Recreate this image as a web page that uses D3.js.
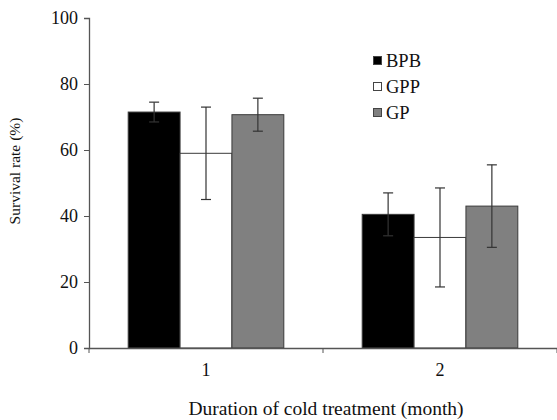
<!DOCTYPE html>
<html>
<head>
<meta charset="utf-8">
<script src="https://cdn.jsdelivr.net/npm/d3@7"></script>
<style>
  body { margin: 0; background: #fff; }
  text { font-family: "Liberation Serif", "Times New Roman", serif; fill: #111; }
</style>
</head>
<body>
<div id="chart"></div>
<script>
var months = ["1", "2"];
var series = ["BPB", "GPP", "GP"];
var colors = ["#000000", "#ffffff", "#808080"];
// survival rate (%) per series, for month 1 and 2
var BPB = [71.5, 40.5];
var GPP = [59, 33.5];
var GP = [70.7, 43];
// error bar half-lengths
var BPBerr = [3, 6.5];
var GPPerr = [14, 15];
var GPerr = [5, 12.5];
var yTicks = [0, 20, 40, 60, 80, 100];

var values = [BPB, GPP, GP],
    errors = [BPBerr, GPPerr, GPerr];

var svg = d3.select("#chart")
        .append("svg")
        .attr("width", 557)
        .attr("height", 420),
    margin = {top: 18, right: 0, bottom: 72, left: 89},
    width = +svg.attr("width") - margin.left - margin.right,
    height = +svg.attr("height") - margin.top - margin.bottom,
    g = svg.append("g").attr("transform", "translate(" + margin.left + "," + margin.top + ")");

var x0 = d3.scaleBand()
    .domain(months)
    .range([0, width])
    .paddingInner(0.335)
    .paddingOuter(0.1675);

var x1 = d3.scaleBand()
    .domain(series)
    .range([0, x0.bandwidth()]);

var y = d3.scaleLinear()
    .domain([0, 100])
    .range([height, 0]);

// bars
months.forEach(function(m, i) {
    series.forEach(function(s, j) {
        var v = values[j][i];
        g.append("rect")
            .attr("x", x0(m) + x1(s))
            .attr("y", y(v))
            .attr("width", x1.bandwidth())
            .attr("height", height - y(v))
            .attr("fill", colors[j])
            .attr("stroke", "#3a3a3a")
            .attr("stroke-width", 1);
    });
});

// error bars
months.forEach(function(m, i) {
    series.forEach(function(s, j) {
        var v = values[j][i], e = errors[j][i];
        var cx = x0(m) + x1(s) + x1.bandwidth() / 2;
        var eb = g.append("g").attr("stroke", "#333").attr("stroke-width", 1.2);
        eb.append("line").attr("x1", cx).attr("x2", cx).attr("y1", y(v + e)).attr("y2", y(v - e));
        eb.append("line").attr("x1", cx - 5).attr("x2", cx + 5).attr("y1", y(v + e)).attr("y2", y(v + e));
        eb.append("line").attr("x1", cx - 5).attr("x2", cx + 5).attr("y1", y(v - e)).attr("y2", y(v - e));
    });
});

// axes
var yAxis = g.append("g")
    .call(d3.axisLeft(y).tickValues(yTicks).tickSize(5).tickPadding(6));
yAxis.attr("font-family", "Liberation Serif, serif");
yAxis.select(".domain").attr("stroke", "#555").attr("stroke-width", 1.3);
yAxis.selectAll(".tick line").attr("stroke", "#555");
yAxis.selectAll("text").style("font-size", "18px").attr("fill", "#111");

var xAxis = g.append("g")
    .attr("transform", "translate(0," + height + ")")
    .call(d3.axisBottom(x0).tickSize(0).tickPadding(15));
xAxis.attr("font-family", "Liberation Serif, serif");
xAxis.select(".domain").attr("stroke", "#555").attr("stroke-width", 1.3);
xAxis.selectAll("text").style("font-size", "18px").attr("fill", "#111");

// category boundary ticks
[0, (x0("1") + x0.bandwidth() + x0("2")) / 2, width].forEach(function(t) {
    g.append("line")
        .attr("x1", t).attr("x2", t)
        .attr("y1", height).attr("y2", height + 5)
        .attr("stroke", "#555");
});

// axis titles
svg.append("text")
    .attr("x", 326)
    .attr("y", 415)
    .attr("text-anchor", "middle")
    .style("font-size", "19.5px")
    .text("Duration of cold treatment (month)");

svg.append("text")
    .attr("transform", "translate(20,171) rotate(-90)")
    .attr("text-anchor", "middle")
    .style("font-size", "15.5px")
    .text("Survival rate (%)");

// legend
var legend = svg.append("g").attr("transform", "translate(373,0)");
series.forEach(function(s, j) {
    var ly = 67 + j * 26;
    legend.append("rect")
        .attr("x", 0.5)
        .attr("y", ly - 10.5)
        .attr("width", 8)
        .attr("height", 8)
        .attr("fill", colors[j])
        .attr("stroke", "#444");
    legend.append("text")
        .attr("x", 13)
        .attr("y", ly)
        .style("font-size", "18.5px")
        .text(s);
});
</script>
</body>
</html>
